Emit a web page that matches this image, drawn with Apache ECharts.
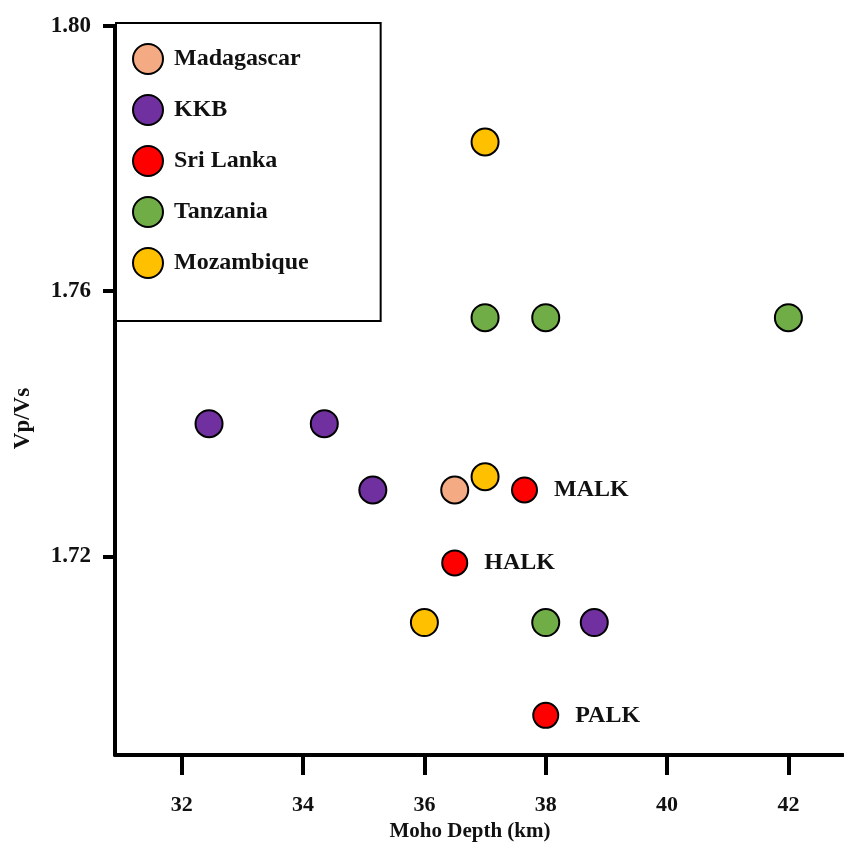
<!DOCTYPE html>
<html>
<head>
<meta charset="utf-8">
<script src="https://cdn.jsdelivr.net/npm/echarts@6/dist/echarts.min.js"></script>
<style>html,body{margin:0;padding:0;background:#fff}#c{width:844px;height:847px}</style>
</head>
<body>
<div id="c"></div>
<script>
const seriesNames = ['Madagascar', 'KKB', 'Sri Lanka', 'Tanzania', 'Mozambique'];
const madagascarX = [36.5];
const madagascarY = [1.730];
const kkbX = [32.45, 34.35, 35.15, 38.8];
const kkbY = [1.740, 1.740, 1.730, 1.710];
const sriLankaX = [37.65, 36.5, 38.0];
const sriLankaY = [1.730, 1.719, 1.696];
const sriLankaStations = ['MALK', 'HALK', 'PALK'];
const tanzaniaX = [37, 38, 42, 38];
const tanzaniaY = [1.756, 1.756, 1.756, 1.710];
const mozambiqueX = [37, 37, 36];
const mozambiqueY = [1.7825, 1.732, 1.710];
const xTicks = [32, 34, 36, 38, 40, 42];
const yTicks = [1.72, 1.76, 1.80];

const colors = ['#F4AA82', '#7030A0', '#FF0000', '#70AD47', '#FFC000'];
const font = 'Liberation Serif';
const ink = '#111';

function pts(xs, ys, names) {
  return xs.map((x, i) => names ? { value: [x, ys[i]], name: names[i] } : [x, ys[i]]);
}
const allData = [
  pts(madagascarX, madagascarY),
  pts(kkbX, kkbY),
  pts(sriLankaX, sriLankaY, sriLankaStations),
  pts(tanzaniaX, tanzaniaY),
  pts(mozambiqueX, mozambiqueY)
];

const chart = echarts.init(document.getElementById('c'));
chart.setOption({
  backgroundColor: '#fff',
  animation: false,
  grid: { left: 115, right: 1, top: 26, bottom: 90 },
  legend: {
    orient: 'vertical',
    left: 116, top: 23,
    padding: [20, 72, 42, 16],
    itemGap: 19,
    itemWidth: 30, itemHeight: 30,
    icon: 'circle',
    borderColor: '#000', borderWidth: 2,
    backgroundColor: '#fff',
    textStyle: { fontFamily: font, fontWeight: 'bold', fontSize: 24, color: ink, padding: [0, 0, 0, 6] },
    data: seriesNames
  },
  xAxis: {
    type: 'value', min: 30.9, max: 42.9,
    name: 'Moho Depth (km)', nameLocation: 'middle', nameGap: 64,
    nameTextStyle: { fontFamily: font, fontWeight: 'bold', fontSize: 21, color: ink, padding: [0, 18, 0, 0] },
    axisLine: { show: true, lineStyle: { color: '#000', width: 4 } },
    axisTick: { show: true, customValues: xTicks, length: 20, lineStyle: { color: '#000', width: 4 } },
    axisLabel: { customValues: xTicks, margin: 39, fontFamily: font, fontWeight: 'bold', fontSize: 22, color: ink },
    splitLine: { show: false }
  },
  yAxis: {
    type: 'value', min: 1.69, max: 1.80,
    name: 'Vp/Vs', nameLocation: 'middle', nameGap: 80, nameRotate: 90,
    nameTextStyle: { fontFamily: font, fontWeight: 'bold', fontSize: 23, color: ink, padding: [0, 56, 0, 0] },
    axisLine: { show: true, lineStyle: { color: '#000', width: 4 } },
    axisTick: { show: true, customValues: yTicks, length: 12, lineStyle: { color: '#000', width: 4 } },
    axisLabel: { customValues: yTicks, margin: 24, fontFamily: font, fontWeight: 'bold', fontSize: 23, color: ink,
      formatter: v => v.toFixed(2) },
    splitLine: { show: false }
  },
  series: seriesNames.map((n, i) => ({
    name: n,
    type: 'scatter',
    symbol: 'circle',
    symbolSize: i === 2 ? 25 : 27,
    itemStyle: { color: colors[i], borderColor: '#000', borderWidth: 2, opacity: 1 },
    label: i === 2 ? {
      show: true, position: 'right', distance: 16,
      formatter: p => p.name,
      fontFamily: font, fontWeight: 'bold', fontSize: 24, color: ink
    } : { show: false },
    emphasis: { disabled: true },
    data: allData[i]
  }))
});
</script>
</body>
</html>
